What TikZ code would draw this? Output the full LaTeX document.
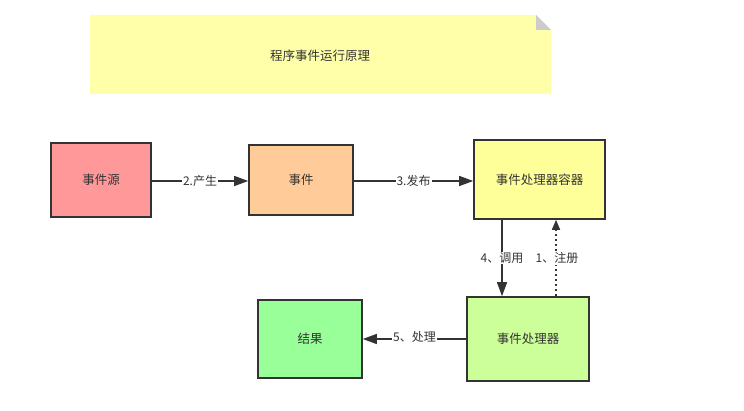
\documentclass[tikz,border=0pt]{standalone}
\usepackage{fontspec}
\setmainfont{Noto Sans CJK SC}
\usetikzlibrary{arrows.meta}
\definecolor{notefill}{HTML}{FFFFAA}
\definecolor{foldgray}{HTML}{CCCCCC}
\definecolor{linegray}{HTML}{333333}
\definecolor{srcred}{HTML}{FF9999}
\definecolor{evtorange}{HTML}{FFCC99}
\definecolor{contyellow}{HTML}{FFFF99}
\definecolor{hdlgreen}{HTML}{CCFF99}
\definecolor{resgreen}{HTML}{99FF99}
\begin{document}
\begin{tikzpicture}[x=1pt,y=-1pt]
\tikzstyle{every node}+=[font=\fontsize{12.5}{15}\selectfont, text=linegray]
\tikzstyle{box}=[draw=linegray, line width=1.6pt, inner sep=0pt]
\tikzstyle{flow}=[draw=linegray, line width=1.4pt, -{Triangle[length=14pt,width=10pt]}]
\tikzstyle{reg}=[draw=linegray, line width=1.6pt, dash pattern=on 2.5pt off 2.5pt, -{Triangle[length=10pt,width=8pt]}]
\tikzstyle{lbl}=[fill=white, inner sep=1pt, font=\fontsize{12}{14}\selectfont]
\useasboundingbox (0,0) rectangle (744,411);
% note
\fill [notefill] (90,15) -- (536,15) -- (551,30) -- (551,94) -- (90,94) -- cycle;
\fill [foldgray] (536,15) -- (551,30) -- (536,30) -- cycle;
\node (title) at (320,56) {程序事件运行原理};
% boxes
\node [box, fill=srcred, minimum width=100pt, minimum height=74pt] (src) at (101,180) {事件源};
\node [box, fill=evtorange, minimum width=104pt, minimum height=70pt] (evt) at (301,180) {事件};
\node [box, fill=contyellow, minimum width=131pt, minimum height=79pt] (cont) at (539.5,179.5) {事件处理器容器};
\node [box, fill=hdlgreen, minimum width=122pt, minimum height=84pt] (hdl) at (528,339) {事件处理器};
\node [box, fill=resgreen, minimum width=104pt, minimum height=78pt] (res) at (310,339) {结果};
% connectors
\coordinate (call) at (502,0);
\coordinate (regx) at (556,0);
\draw [flow] (src.east |- 0,181) -- (evt.west |- 0,181) node [lbl, midway] {2.产生};
\draw [flow] (evt.east |- 0,181) -- (cont.west |- 0,181) node [lbl, midway] {3.发布};
\draw [flow] (cont.south -| call) -- (hdl.north -| call) node [lbl, midway] {4、调用};
\draw [reg] (hdl.north -| regx) -- (cont.south -| regx) node [lbl, midway, xshift=1pt] {1、注册};
\draw [flow] (hdl.west) -- (res.east) node [lbl, midway, yshift=2pt] {5、处理};
\end{tikzpicture}
\end{document}
